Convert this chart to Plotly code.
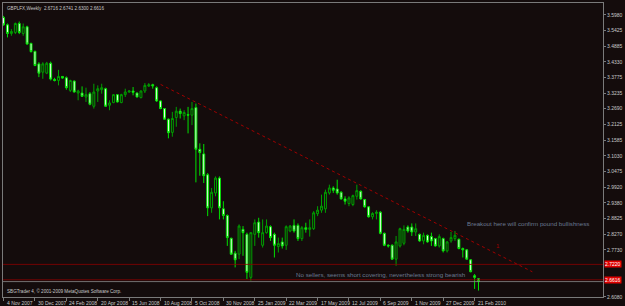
import plotly.graph_objects as go
import pandas as pd

# ---------------- data ----------------
symbol_header = "GBPLFX,Weekly  2.6716 2.6741 2.6300 2.6616"
copyright_text = "SBGTrader 4, © 2001-2009 MetaQuotes Software Corp."

weeks = pd.date_range("2007-11-04", periods=122, freq="7D")

opens = [3.5887, 3.5631, 3.5329, 3.5364, 3.5678, 3.5329, 3.5562, 3.4981, 3.4702, 3.4260,
         3.3970, 3.3935, 3.4283, 3.3714, 3.3679, 3.3819, 3.3772, 3.3331, 3.3656, 3.3238,
         3.3238, 3.3098, 3.3214, 3.2773, 3.3307, 3.3354, 3.3389, 3.2808, 3.2901, 3.3180,
         3.2901, 3.3180, 3.3272, 3.3307, 3.3238, 3.3075, 3.3307, 3.3482, 3.3528, 3.3424,
         3.2959, 3.2691, 3.2320, 3.1855, 3.2378, 3.2599, 3.2436, 3.2482, 3.2459, 3.2726,
         3.1262, 3.1100, 3.0367, 2.9205, 2.9728, 3.0251, 2.9171, 2.8938, 2.8136, 2.7614,
         2.7579, 2.8450, 2.8276, 2.6765, 2.8276, 2.8706, 2.7892, 2.8334, 2.8543, 2.8276,
         2.7846, 2.8009, 2.7892, 2.8392, 2.8590, 2.8590, 2.8125, 2.8508, 2.8450, 2.8473,
         2.9000, 2.9124, 2.9171, 2.9728, 2.9903, 2.9868, 2.9752, 2.9519, 2.9357, 2.9322,
         2.9612, 2.9786, 2.9496, 2.9240, 2.8892, 2.9008, 2.9054, 2.8311, 2.7892, 2.7892,
         2.7404, 2.7869, 2.7962, 2.8532, 2.8532, 2.8357, 2.8276, 2.8043, 2.8241, 2.8195,
         2.8125, 2.7869, 2.8125, 2.7695, 2.8043, 2.8125, 2.8102, 2.7776, 2.7730, 2.7381,
         2.6823, 2.6716]
highs = [3.5945, 3.5678, 3.5480, 3.5713, 3.5748, 3.5678, 3.5600, 3.5000, 3.4720, 3.4318,
         3.4318, 3.4330, 3.4340, 3.3772, 3.4051, 3.3830, 3.3819, 3.3702, 3.3680, 3.3354,
         3.3470, 3.3424, 3.3272, 3.3563, 3.3505, 3.3563, 3.3424, 3.2982, 3.3200, 3.3200,
         3.3210, 3.3389, 3.3330, 3.3447, 3.3260, 3.3330, 3.3586, 3.3586, 3.3563, 3.3470,
         3.2980, 3.2710, 3.2343, 3.2575, 3.2750, 3.2691, 3.2633, 3.2750, 3.2924, 3.2866,
         3.1471, 3.1448, 3.0426, 2.9903, 3.0309, 3.0309, 2.9438, 2.8973, 2.8160, 2.7695,
         2.8624, 2.8566, 2.8334, 2.8340, 2.8799, 2.8857, 2.8799, 2.8799, 2.8590, 2.8334,
         2.8160, 2.8160, 2.8590, 2.8600, 2.8799, 2.8659, 2.8566, 2.8683, 2.8799, 2.9090,
         2.9264, 2.9670, 2.9845, 3.0019, 2.9961, 3.0193, 2.9790, 2.9612, 2.9612, 2.9670,
         3.0019, 2.9820, 2.9520, 2.9270, 2.9054, 2.9124, 2.9090, 2.8340, 2.7927, 2.7927,
         2.8218, 2.8508, 2.8590, 2.8590, 2.8659, 2.8659, 2.8300, 2.8334, 2.8270, 2.8334,
         2.8150, 2.8276, 2.8160, 2.8043, 2.8357, 2.8392, 2.8130, 2.7811, 2.7760, 2.7400,
         2.6881, 2.6741]
lows = [3.5596, 3.5190, 3.5248, 3.5306, 3.5306, 3.5248, 3.4930, 3.4660, 3.4180, 3.3795,
        3.3737, 3.3900, 3.3679, 3.3644, 3.3505, 3.3740, 3.3354, 3.3272, 3.3250, 3.2982,
        3.3098, 3.2924, 3.2808, 3.2691, 3.2924, 3.3214, 3.2750, 3.2633, 3.2880, 3.2900,
        3.2880, 3.3098, 3.3250, 3.3156, 3.3080, 3.3050, 3.3238, 3.3447, 3.3389, 3.2924,
        3.2670, 3.2300, 3.1646, 3.1704, 3.2052, 3.2343, 3.2285, 3.1820, 3.2110, 3.0100,
        3.0333, 3.0077, 2.8915, 2.9031, 2.9612, 2.8799, 2.8799, 2.7869, 2.7550, 2.7114,
        2.7404, 2.7521, 2.6707, 2.6649, 2.7869, 2.8160, 2.7811, 2.8300, 2.8043, 2.7462,
        2.7637, 2.7776, 2.7730, 2.8350, 2.8334, 2.8043, 2.8043, 2.8334, 2.8195, 2.8430,
        2.8915, 2.9031, 2.9031, 2.9670, 2.9728, 2.9670, 2.9490, 2.9322, 2.9264, 2.9264,
        2.9496, 2.9490, 2.9210, 2.8860, 2.8799, 2.8799, 2.8276, 2.7860, 2.7811, 2.7380,
        2.7172, 2.7811, 2.7892, 2.8334, 2.8218, 2.8218, 2.8010, 2.7927, 2.7980, 2.7869,
        2.7840, 2.7811, 2.7637, 2.7637, 2.7980, 2.8043, 2.7750, 2.7462, 2.7380, 2.6940,
        2.6359, 2.6300]
closes = [3.5631, 3.5329, 3.5399, 3.5678, 3.5364, 3.5562, 3.4957, 3.4690, 3.4202, 3.3935,
          3.4260, 3.4283, 3.3726, 3.3679, 3.3819, 3.3761, 3.3424, 3.3679, 3.3272, 3.3307,
          3.3121, 3.3180, 3.2843, 3.3272, 3.3389, 3.3424, 3.2773, 3.2889, 3.3180, 3.2924,
          3.3180, 3.3272, 3.3307, 3.3261, 3.3098, 3.3307, 3.3505, 3.3528, 3.3490, 3.2959,
          3.2691, 3.2320, 3.1843, 3.2343, 3.2599, 3.2517, 3.2552, 3.2459, 3.2691, 3.1262,
          3.1146, 3.0333, 2.9205, 2.9752, 3.0251, 2.9205, 2.8938, 2.8160, 2.7579, 2.7381,
          2.8566, 2.8334, 2.6940, 2.8334, 2.8683, 2.8334, 2.8334, 2.8566, 2.8160, 2.7892,
          2.7951, 2.7869, 2.8543, 2.8566, 2.8392, 2.8125, 2.8508, 2.8450, 2.8508, 2.9031,
          2.9124, 2.9264, 2.9752, 2.9903, 2.9821, 2.9728, 2.9519, 2.9438, 2.9554, 2.9635,
          2.9810, 2.9519, 2.9240, 2.8892, 2.9008, 2.9054, 2.8311, 2.7892, 2.7869, 2.7404,
          2.8009, 2.8473, 2.8450, 2.8392, 2.8357, 2.8473, 2.8043, 2.8241, 2.8009, 2.8043,
          2.7869, 2.8195, 2.7695, 2.8009, 2.8160, 2.8241, 2.7776, 2.7730, 2.7404, 2.6963,
          2.6765, 2.6616]

price_ticks = [3.5980, 3.5425, 3.4885, 3.4330, 3.3775, 3.3235, 3.2690, 3.2125, 3.1585,
               3.1030, 3.0475, 2.9920, 2.9380, 2.8825, 2.8270, 2.7730, 2.6080]

date_tick_values = ["2007-11-04", "2007-12-30", "2008-02-24", "2008-04-20", "2008-06-15",
                    "2008-08-10", "2008-10-05", "2008-11-30", "2009-01-25", "2009-03-22",
                    "2009-05-17", "2009-07-12", "2009-09-06", "2009-11-01", "2009-12-27",
                    "2010-02-21"]
date_tick_labels = ["4 Nov 2007", "30 Dec 2007", "24 Feb 2008", "20 Apr 2008", "15 Jun 2008",
                    "10 Aug 2008", "5 Oct 2008", "30 Nov 2008", "25 Jan 2009", "22 Mar 2009",
                    "17 May 2009", "12 Jul 2009", "6 Sep 2009", "1 Nov 2009", "27 Dec 2009",
                    "21 Feb 2010"]

hline_levels = [2.7220, 2.6680]
hline_labels = ["2.7220", "2.6616"]
bid_price = 2.6616

trend_x = ["2008-08-10", "2010-06-04"]
trend_y = [3.354, 2.696]

note_breakout = "Breakout here will confirm pound bullishness"
note_breakout_pos = ("2010-05-28", 2.866)
note_sellers = "No sellers, seems short covering, nevertheless strong bearish"
note_sellers_pos = ("2009-04-05", 2.688)
trend_label = "1"
trend_label_pos = ("2010-04-03", 2.7858)

x_range = ["2007-11-03", "2010-10-08"]
y_range = [2.6075, 3.6398]

# ---------------- styling ----------------
BG = "#140c0c"
GRID = "#7a7a7a"
TXT = "#c8c8c8"
NOTE = "#6a7990"
RED = "#8a0000"
FONT = "Liberation Sans"

fig = go.Figure()
fig.add_trace(go.Candlestick(
    x=weeks, open=opens, high=highs, low=lows, close=closes,
    increasing=dict(line=dict(color="#00a000", width=1), fillcolor=BG),
    decreasing=dict(line=dict(color="#00e000", width=1), fillcolor="#f4fff4"),
    whiskerwidth=0, showlegend=False, hoverinfo="skip",
))

# trend line
fig.add_trace(go.Scatter(x=trend_x, y=trend_y, mode="lines",
                         line=dict(color="#a00000", width=1, dash="dot"),
                         showlegend=False, hoverinfo="skip"))

shapes = []
for lvl in hline_levels:
    shapes.append(dict(type="line", xref="paper", x0=0, x1=1, yref="y", y0=lvl, y1=lvl,
                       line=dict(color=RED, width=0.8)))
shapes.append(dict(type="line", xref="paper", x0=0, x1=1, yref="y", y0=bid_price, y1=bid_price,
                   line=dict(color="#8a8a8a", width=0.8)))

annotations = []
annotations.append(dict(text=symbol_header, xref="paper", yref="paper", x=0.004, y=0.995,
                        xanchor="left", yanchor="top", showarrow=False,
                        font=dict(family=FONT, size=4.6, color=TXT)))
annotations.append(dict(text=copyright_text, xref="paper", yref="paper", x=0.004, y=0.005,
                        xanchor="left", yanchor="bottom", showarrow=False,
                        font=dict(family=FONT, size=4.6, color=TXT)))
for dv, lab in zip(date_tick_values, date_tick_labels):
    annotations.append(dict(text=lab, x=dv, xref="x", yref="paper", y=0, yshift=-1,
                            xanchor="left", yanchor="top", showarrow=False, xshift=1,
                            font=dict(family=FONT, size=5, color=TXT)))
for lvl, lab in zip(hline_levels, hline_labels):
    annotations.append(dict(text=lab, xref="paper", x=1, xshift=1, y=lvl, yref="y",
                            xanchor="left", yanchor="middle", showarrow=False,
                            bgcolor="#e00000", borderpad=0,
                            font=dict(family=FONT, size=5, color="#ffffff")))
annotations.append(dict(text=note_breakout, x=note_breakout_pos[0], y=note_breakout_pos[1],
                        xref="x", yref="y", showarrow=False,
                        font=dict(family=FONT, size=6.2, color=NOTE)))
annotations.append(dict(text=note_sellers, x=note_sellers_pos[0], y=note_sellers_pos[1],
                        xref="x", yref="y", showarrow=False, xanchor="left",
                        font=dict(family=FONT, size=6.2, color=NOTE)))
annotations.append(dict(text=trend_label, x=trend_label_pos[0], y=trend_label_pos[1],
                        xref="x", yref="y", showarrow=False,
                        font=dict(family=FONT, size=6, color="#a00000")))

fig.update_layout(
    width=625, height=306,
    margin=dict(l=2, r=19, t=2, b=9),
    paper_bgcolor=BG, plot_bgcolor=BG,
    shapes=shapes, annotations=annotations,
    font=dict(family=FONT, size=5, color=TXT),
    xaxis=dict(type="date", range=x_range, showgrid=False, zeroline=False,
               rangeslider=dict(visible=False),
               tickvals=date_tick_values, showticklabels=False,
               ticks="outside", ticklen=3, tickcolor=GRID,
               showline=True, mirror=True, linecolor=GRID, linewidth=1),
    yaxis=dict(side="right", range=y_range, showgrid=False, zeroline=False,
               tickvals=price_ticks, ticktext=[f"{v:.4f}" for v in price_ticks],
               ticks="outside", ticklen=2, tickcolor=GRID,
               tickfont=dict(family=FONT, size=5, color=TXT),
               showline=True, mirror=True, linecolor=GRID, linewidth=1),
)

fig.write_html("out.html")
